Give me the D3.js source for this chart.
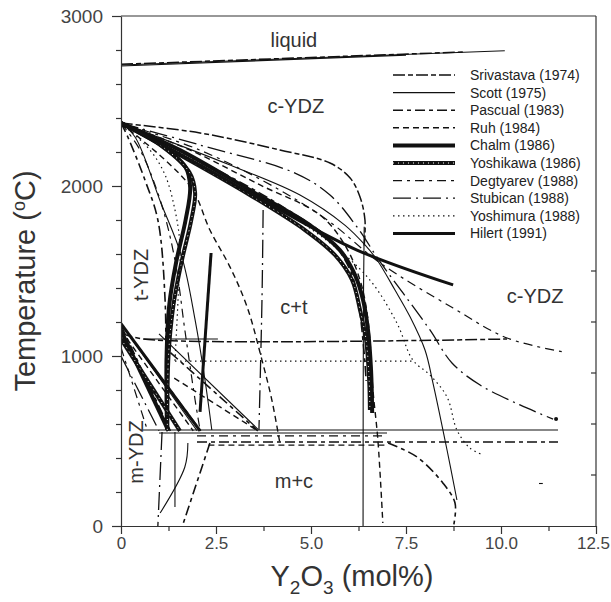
<!DOCTYPE html>
<html>
<head>
<meta charset="utf-8">
<script src="https://cdn.jsdelivr.net/npm/d3@7"></script>
<style>
  body { margin: 0; background: #fff; }
  text { font-family: "Liberation Sans", Arial, Helvetica, sans-serif; }
</style>
</head>
<body>
<div id="chart"></div>
<script>
// phase boundaries, [mol% Y2O3, temperature in C], one list of curves per study
const srivastava = [
  [[0, 2716], [9.0, 2788]],
  [[0, 2370], [2.08, 2312], [4.18, 2212], [5.5, 2135], [6.03, 2047], [6.29, 1935], [6.42, 1800], [6.4, 1650]],
  [[0, 1135], [0.58, 1100], [10.16, 1100]],
  [[0, 1190], [2.1, 560]]
];
const scott = [
  [[0, 2712], [10.1, 2796]],
  [[0, 2706], [7.5, 2770]],
  [[0, 2370], [2.87, 2123], [4.71, 1947], [5.89, 1770], [6.42, 1653], [6.74, 1565], [7.21, 1388], [7.61, 1229], [8.0, 1035], [8.21, 841], [8.58, 447], [8.84, 153]],
  [[6.4, 1760], [6.38, 1300], [6.37, 0]],
  [[0, 2370], [0.37, 2288], [1.03, 1912], [1.61, 1576], [1.95, 1212], [2.21, 859], [2.39, 565]],
  [[0.6, 1100], [2.55, 1100]],
  [[0.58, 565], [11.5, 565]],
  [[1.0, 547], [7.0, 547]],
  [[0, 1190], [2.0, 560]],
  [[1.42, 553], [1.42, 112]],
  [[1.0, 1130], [3.6, 570]],
  [[1.76, 488], [1.68, 347], [1.03, 76]],
  [[11.0, 250], [11.1, 250]]
];
const pascual = [
  [[0, 2370], [2.08, 2147], [4.18, 1888], [5.5, 1682], [6.03, 1506], [6.24, 1329], [6.34, 1153], [6.42, 959], [6.45, 853]],
  [[0, 2370], [0.18, 2288], [0.63, 2035], [0.97, 1800], [1.16, 1329], [1.18, 859], [1.21, 565]],
  [[2.0, 494], [11.5, 494]],
  [[0, 1180], [1.3, 560]],
  [[1.3, 1020], [3.6, 560]],
  [[2.34, 488], [1.63, 10]],
  [[7.03, 488], [7.79, 406], [8.47, 253], [8.79, 135], [8.76, 10]]
];
const ruh = [
  [[0, 2370], [1.82, 2211], [3.66, 2006], [5.24, 1829], [5.89, 1653], [6.29, 1447], [6.5, 1212], [6.63, 800], [6.76, 506], [6.89, 18]],
  [[0, 2370], [1.16, 2153], [1.89, 1976], [2.34, 1741], [2.87, 1523], [3.32, 1288], [3.71, 976], [3.97, 741], [4.18, 488]],
  [[2.3, 476], [7.0, 476]],
  [[0, 1150], [1.9, 560]],
  [[1.4, 870], [3.6, 560]]
];
const chalm = [
  [[0, 2370], [1.55, 2211], [3.39, 1976], [4.97, 1770], [5.76, 1623], [6.16, 1476], [6.37, 1329], [6.5, 1153], [6.58, 918], [6.61, 665]],
  [[0, 2370], [1.0, 2250], [1.7, 2110], [1.82, 1990], [1.7, 1800], [1.45, 1550], [1.27, 1300], [1.2, 1000], [1.21, 565]],
  [[0, 1150], [1.25, 560]]
];
const yoshikawa = [
  [[0, 2370], [1.55, 2182], [3.39, 1947], [4.84, 1741], [5.63, 1594], [6.08, 1447], [6.29, 1271], [6.45, 1094], [6.53, 859], [6.55, 682]],
  [[0, 2370], [1.1, 2230], [1.8, 2080], [1.95, 1960], [1.85, 1800], [1.6, 1560], [1.38, 1300], [1.25, 1000], [1.22, 565]],
  [[0, 1100], [1.55, 560]]
];
const degtyarev = [
  [[0, 2370], [2.08, 2211], [4.18, 1976], [5.5, 1788], [6.82, 1547], [8.74, 1282], [10.16, 1106], [11.63, 1024]],
  [[0, 2370], [0.5, 2212], [1.03, 1918], [1.42, 1565], [1.68, 1153], [1.95, 741], [2.08, 565]],
  [[0, 1050], [0.7, 560]],
  [[2.0, 530], [7.0, 530]]
];
const stubican = [
  [[0, 2370], [2.08, 2241], [4.58, 2076], [5.5, 1947], [6.21, 1759], [6.82, 1553], [7.42, 1371], [8.13, 1153], [8.71, 959], [9.45, 829], [10.5, 712], [11.37, 629]],
  [[3.74, 1859], [3.71, 1329], [3.63, 565]],
  [[0, 1000], [1.0, 560]],
  [[1.08, 553], [0.97, 0]]
];
const yoshimura = [
  [[0, 2370], [3.39, 1976], [5.5, 1665], [6.55, 1447], [7.26, 1194], [7.68, 976], [8.13, 888], [8.58, 759], [8.84, 565], [9.18, 459], [9.53, 418]],
  [[0, 2370], [0.76, 2212], [1.16, 2065], [1.42, 1859], [1.55, 1653], [1.5, 1329], [1.42, 970]],
  [[1.42, 970], [7.68, 970]]
];
const hilert = [
  [[0, 2370], [2.08, 2123], [4.18, 1859], [6.21, 1623], [8.74, 1418]],
  [[2.37, 1606], [2.08, 671]],
  [[0, 1190], [2.08, 560]]
];

const studies = ["Srivastava (1974)", "Scott (1975)", "Pascual (1983)", "Ruh (1984)", "Chalm (1986)",
  "Yoshikawa (1986)", "Degtyarev (1988)", "Stubican (1988)", "Yoshimura (1988)", "Hilert (1991)"];
const curves = [srivastava, scott, pascual, ruh, chalm, yoshikawa, degtyarev, stubican, yoshimura, hilert];

const xMajor = [0, 2.5, 5, 7.5, 10, 12.5];
const xMinor = [1.25, 3.75, 6.25, 8.75, 11.25];
const yMajor = [0, 1000, 2000, 3000];
const yMinor = [200, 400, 600, 800, 1200, 1400, 1600, 1800, 2200, 2400, 2600, 2800];
const rightTicks = [300, 600, 900, 1200, 1500];

// region labels: [text, x, T]
const regions = [
  ["liquid", 4.55, 2815],
  ["c-YDZ", 4.6, 2430],
  ["c+t", 4.55, 1250],
  ["c-YDZ", 10.9, 1312],
  ["m+c", 4.55, 222]
];

// line look for each study
const styles = [
  { w: 1.5, dash: "12,3,5,3" },
  { w: 1.1, dash: null },
  { w: 1.6, dash: "10,4,4,4" },
  { w: 1.4, dash: "6,4" },
  { w: 4, dash: null },
  { w: 4, dash: null },
  { w: 1.2, dash: "9,5,3,5" },
  { w: 1.3, dash: "18,5,2,5" },
  { w: 1.2, dash: "1.5,3.5" },
  { w: 3, dash: null }
];

const width = 611, height = 602;
const svg = d3.select("#chart").append("svg")
  .attr("width", width)
  .attr("height", height);

const x = d3.scaleLinear().domain([0, 12.5]).range([121, 596]);
const y = d3.scaleLinear().domain([0, 3000]).range([526, 16]);

svg.append("clipPath").attr("id", "plot")
  .append("rect")
  .attr("x", x(0)).attr("y", y(3000))
  .attr("width", x(12.5) - x(0)).attr("height", y(0) - y(3000));

const line = d3.line()
  .x(d => x(d[0]))
  .y(d => y(d[1]))
  .curve(d3.curveCatmullRom.alpha(0.5));

const plot = svg.append("g").attr("clip-path", "url(#plot)");

curves.forEach((set, i) => {
  const st = styles[i];
  set.forEach(c => {
    plot.append("path")
      .attr("d", line(c))
      .attr("fill", "none")
      .attr("stroke", "#111")
      .attr("stroke-width", st.w)
      .attr("stroke-dasharray", st.dash);
    if (i === 5) {
      // Yoshikawa: thick line with light dots inside
      plot.append("path")
        .attr("d", line(c))
        .attr("fill", "none")
        .attr("stroke", "#fff")
        .attr("stroke-width", 1)
        .attr("stroke-dasharray", "1,4");
    }
  });
});

// end dot of the Stubican cubic boundary
const stubEnd = stubican[0][stubican[0].length - 1];
plot.append("circle")
  .attr("cx", x(stubEnd[0]) + 3)
  .attr("cy", y(stubEnd[1]))
  .attr("r", 2)
  .attr("fill", "#111");

// frame
svg.append("line").attr("x1", x(0)).attr("x2", x(12.5)).attr("y1", y(3000)).attr("y2", y(3000))
  .attr("stroke", "#333").attr("stroke-width", 1.2);
svg.append("line").attr("x1", x(12.5)).attr("x2", x(12.5)).attr("y1", y(3000)).attr("y2", y(0))
  .attr("stroke", "#333").attr("stroke-width", 1.2);
svg.selectAll("line.rtick")
  .data(rightTicks)
  .enter()
  .append("line")
  .attr("class", "rtick")
  .attr("x1", x(12.5) - 5).attr("x2", x(12.5))
  .attr("y1", d => y(d)).attr("y2", d => y(d))
  .attr("stroke", "#333").attr("stroke-width", 1.2);

// axes
const gx = svg.append("g").attr("transform", `translate(0,${y(0)})`);
gx.call(d3.axisBottom(x).tickValues(xMajor).tickSize(8).tickSizeOuter(0).tickPadding(3)
  .tickFormat(d => d === 0 ? "0" : d.toFixed(1)));
gx.append("g").call(d3.axisBottom(x).tickValues(xMinor).tickSize(5).tickFormat(""))
  .select(".domain").remove();

const gy = svg.append("g").attr("transform", `translate(${x(0)},0)`);
gy.call(d3.axisLeft(y).tickValues(yMajor).tickSize(9).tickSizeOuter(0).tickPadding(9)
  .tickFormat(d3.format("d")));
gy.append("g").call(d3.axisLeft(y).tickValues(yMinor).tickSize(5).tickFormat(""))
  .select(".domain").remove();

svg.selectAll(".domain, .tick line").attr("stroke", "#333").attr("stroke-width", 1.2);
gx.selectAll("text").style("font-size", "17px").attr("fill", "#444")
  .attr("dx", d => d === 12.5 ? -3 : 0);
gy.selectAll("text").style("font-size", "19px").attr("fill", "#444");

// axis titles
const xt = svg.append("text")
  .attr("x", 352).attr("y", 586)
  .attr("text-anchor", "middle")
  .style("font-size", "29px")
  .attr("fill", "#333");
xt.append("tspan").text("Y");
xt.append("tspan").text("2").style("font-size", "19px").attr("dy", 8);
xt.append("tspan").text("O").attr("dy", -8);
xt.append("tspan").text("3").style("font-size", "19px").attr("dy", 8);
xt.append("tspan").text(" (mol%)").attr("dy", -8);

const yt = svg.append("text")
  .attr("transform", "translate(35,281) rotate(-90)")
  .attr("text-anchor", "middle")
  .style("font-size", "29px")
  .attr("fill", "#333");
yt.append("tspan").text("Temperature (");
yt.append("tspan").text("o").style("font-size", "18px").attr("dy", -10);
yt.append("tspan").text("C)").attr("dy", 10);

// region labels
svg.selectAll("text.region")
  .data(regions)
  .enter()
  .append("text")
  .attr("class", "region")
  .attr("x", d => x(d[1]))
  .attr("y", d => y(d[2]))
  .attr("text-anchor", "middle")
  .style("font-size", "20px")
  .attr("fill", "#333")
  .text(d => d[0]);

svg.append("text")
  .attr("transform", "translate(148,275) rotate(-90)")
  .attr("text-anchor", "middle")
  .style("font-size", "20px")
  .attr("fill", "#333")
  .text("t-YDZ");
svg.append("text")
  .attr("transform", "translate(143,452) rotate(-90)")
  .attr("text-anchor", "middle")
  .style("font-size", "20px")
  .attr("fill", "#333")
  .text("m-YDZ");

// legend
const legend = svg.append("g").attr("transform", "translate(393,75)");
studies.forEach((name, i) => {
  const g = legend.append("g").attr("transform", `translate(0,${i * 17.6})`);
  g.append("line")
    .attr("x1", 0).attr("x2", 62)
    .attr("stroke", "#111")
    .attr("stroke-width", styles[i].w)
    .attr("stroke-dasharray", styles[i].dash);
  if (i === 5) {
    g.append("line").attr("x1", 0).attr("x2", 62)
      .attr("stroke", "#fff").attr("stroke-width", 1).attr("stroke-dasharray", "1,4");
  }
  g.append("text")
    .attr("x", 77).attr("y", 5)
    .style("font-size", "14px")
    .attr("fill", "#222")
    .text(name);
});
</script>
</body>
</html>
